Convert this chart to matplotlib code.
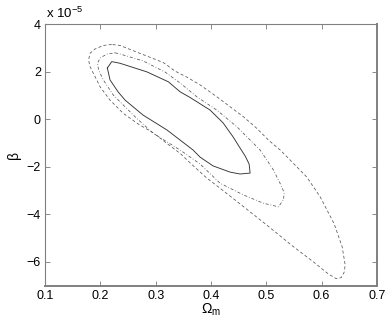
import matplotlib
matplotlib.use("Agg")
import matplotlib.pyplot as plt

plt.rcParams['font.family'] = ['Liberation Sans', 'DejaVu Sans']
plt.rcParams['mathtext.fontset'] = 'custom'
plt.rcParams['mathtext.rm'] = 'Liberation Sans'
plt.rcParams['mathtext.it'] = 'Liberation Sans'
plt.rcParams['axes.unicode_minus'] = True

# beta values in units of 1e-5
SCALE_EXP = -5

# 1-sigma contour (solid)
om1 = [0.2127, 0.2206, 0.2356, 0.2839, 0.3230, 0.3441, 0.3622, 0.3984, 0.4219, 0.4400,
       0.4526, 0.4617, 0.4689, 0.4707, 0.4526, 0.4345, 0.4038, 0.3803, 0.3676, 0.3206,
       0.2772, 0.2447, 0.2320, 0.2175, 0.2127]
be1 = [2.16, 2.43, 2.36, 2.00, 1.58, 1.16, 0.92, 0.39, -0.15, -0.74,
       -1.21, -1.54, -1.88, -2.26, -2.30, -2.22, -1.96, -1.59, -1.29, -0.45,
       0.18, 0.81, 1.16, 1.66, 2.16]

# 2-sigma contour (dash-dot)
om2 = [0.2266, 0.2356, 0.2772, 0.3170, 0.3441, 0.3743, 0.4105, 0.4467, 0.4707, 0.4888,
       0.5128, 0.5280, 0.5322, 0.5309, 0.5219, 0.4948, 0.4586, 0.4165, 0.3803, 0.3441,
       0.2958, 0.2658, 0.2416, 0.2235, 0.2054, 0.1967, 0.1949, 0.1995, 0.2121, 0.2266]
be2 = [2.80, 2.75, 2.46, 1.99, 1.53, 0.95, 0.39, -0.31, -0.87, -1.29,
       -2.13, -2.84, -3.10, -3.39, -3.68, -3.53, -3.18, -2.69, -1.88, -1.29,
       -0.59, 0.04, 0.60, 1.02, 1.66, 2.08, 2.36, 2.58, 2.75, 2.80]

# 3-sigma contour (dashed)
om3 = [0.2206, 0.2054, 0.1904, 0.1814, 0.1787, 0.1814, 0.1873, 0.1935, 0.1995, 0.2175,
       0.2416, 0.2687, 0.2958, 0.3201, 0.3441, 0.3682, 0.3924, 0.4165, 0.4526, 0.5009,
       0.5490, 0.5852, 0.6123, 0.6262, 0.6353, 0.6407, 0.6425, 0.6371, 0.6226, 0.5973,
       0.5732, 0.5430, 0.5250, 0.5038, 0.4828, 0.4586, 0.4345, 0.4105, 0.3803, 0.3562,
       0.3351, 0.3139, 0.2658, 0.2356, 0.2206]
be3 = [3.15, 3.11, 2.96, 2.78, 2.50, 2.22, 1.94, 1.66, 1.37, 0.81,
       0.25, -0.20, -0.57, -1.01, -1.43, -1.96, -2.47, -2.90, -3.56, -4.45,
       -5.36, -6.00, -6.51, -6.70, -6.66, -6.43, -6.13, -5.37, -4.40, -3.26,
       -2.43, -1.71, -1.29, -0.87, -0.38, 0.11, 0.53, 0.95, 1.45, 1.78,
       2.03, 2.39, 2.83, 3.11, 3.15]

xticks = [0.1, 0.2, 0.3, 0.4, 0.5, 0.6, 0.7]
yticks = [-6, -4, -2, 0, 2, 4]

fig = plt.figure(figsize=(3.9, 3.22), dpi=100)
ax = fig.add_axes([45/390, 1-285.7/322, (377-45)/390, (285.7-24.3)/322])

ax.plot(om1, be1, color='#333333', lw=0.65, ls='-')
ax.plot(om2, be2, color='#555555', lw=0.55, ls=(0, (4, 2.5, 1, 2.5)))
ax.plot(om3, be3, color='#555555', lw=0.55, ls=(0, (4, 3)))

ax.set_xlim(0.1, 0.7)
ax.set_ylim(-7, 4)
ax.set_xticks(xticks)
ax.set_yticks(yticks)
ax.set_xticklabels([f"{t:g}" for t in xticks])
ax.set_yticklabels([f"{t:g}".replace('-', '\u2212') for t in yticks])

ax.tick_params(direction='in', length=3.5, width=0.6, colors='#777777',
               labelcolor='black', labelsize=9, top=True, right=True, pad=3)
for side, sp in ax.spines.items():
    sp.set_color('#808080')
    sp.set_linewidth(1.4 if side in ('right', 'bottom') else 0.8)

ax.set_xlabel('\u03a9$_\\mathrm{m}$', fontsize=10, labelpad=0)
ax.set_ylabel('\u03b2', fontsize=10, labelpad=4)

ax.text(0.003, 1.012, 'x 10$^{\\mathrm{\u2212%d}}$' % (-SCALE_EXP), transform=ax.transAxes,
        fontsize=9.5, ha='left', va='bottom')

fig.savefig('out.png', dpi=100)
